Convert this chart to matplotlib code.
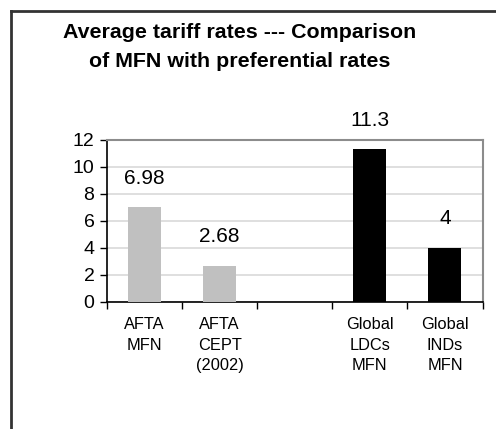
import matplotlib
matplotlib.use("Agg")
import matplotlib.pyplot as plt
from matplotlib.lines import Line2D

plt.rcParams['font.family'] = ['Liberation Sans', 'DejaVu Sans']

categories = ["AFTA\nMFN", "AFTA\nCEPT\n(2002)", "", "Global\nLDCs\nMFN", "Global\nINDs\nMFN"]
values = [6.98, 2.68, None, 11.3, 4]
value_labels = ["6.98", "2.68", "", "11.3", "4"]
bar_colors = ["#C0C0C0", "#C0C0C0", "#FFFFFF", "#000000", "#000000"]
y_ticks = [0, 2, 4, 6, 8, 10, 12]
title_lines = ["Average tariff rates --- Comparison", "of MFN with preferential rates"]

W, H = 496, 429
fig = plt.figure(figsize=(W / 100, H / 100), dpi=100)
ax = fig.add_axes([107 / W, 1 - 302 / H, (482.5 - 107) / W, (302 - 139.5) / H])

xs = list(range(len(categories)))
for x, v, c, lab in zip(xs, values, bar_colors, value_labels):
    if v is None:
        continue
    ax.bar(x, v, width=0.44, color=c, zorder=3)
    ax.annotate(lab, (x, v), xytext=(0, 14), textcoords="offset points",
                ha="center", va="bottom", fontsize=15)

ax.set_xlim(-0.5, len(categories) - 0.5)
ax.set_ylim(0, 12)
ax.set_yticks(y_ticks)
ax.tick_params(axis="y", labelsize=14, length=5, width=1, direction="out", pad=4)
ax.yaxis.grid(True, color="#D9D9D9", linewidth=1.2, zorder=0)

# category boundaries carry tick marks; labels sit at category centres
ax.set_xticks([i - 0.5 for i in range(len(categories) + 1)])
ax.set_xticklabels([])
ax.set_xticks(xs, minor=True)
ax.set_xticklabels(categories, minor=True, fontsize=11.8, linespacing=1.45)
ax.tick_params(axis="x", which="major", length=5, width=1, direction="out")
ax.tick_params(axis="x", which="minor", length=0, pad=11)

for side in ("left", "bottom"):
    ax.spines[side].set_color("black")
    ax.spines[side].set_linewidth(1.2)
for side in ("top", "right"):
    ax.spines[side].set_color("#8C8C8C")
    ax.spines[side].set_linewidth(1.5)

for text, base_px in zip(title_lines, (38, 67)):
    fig.text(240 / W, 1 - base_px / H, text, ha="center", va="baseline",
             fontsize=15.4, fontweight="bold")

# outer frame (left and top edges)
fig.add_artist(Line2D([11 / W, 11 / W], [0, 1 - 11 / H], transform=fig.transFigure,
                      color="#333333", linewidth=2))
fig.add_artist(Line2D([11 / W, 1], [1 - 11 / H, 1 - 11 / H], transform=fig.transFigure,
                      color="#333333", linewidth=2))

fig.savefig("out.png", dpi=100)
